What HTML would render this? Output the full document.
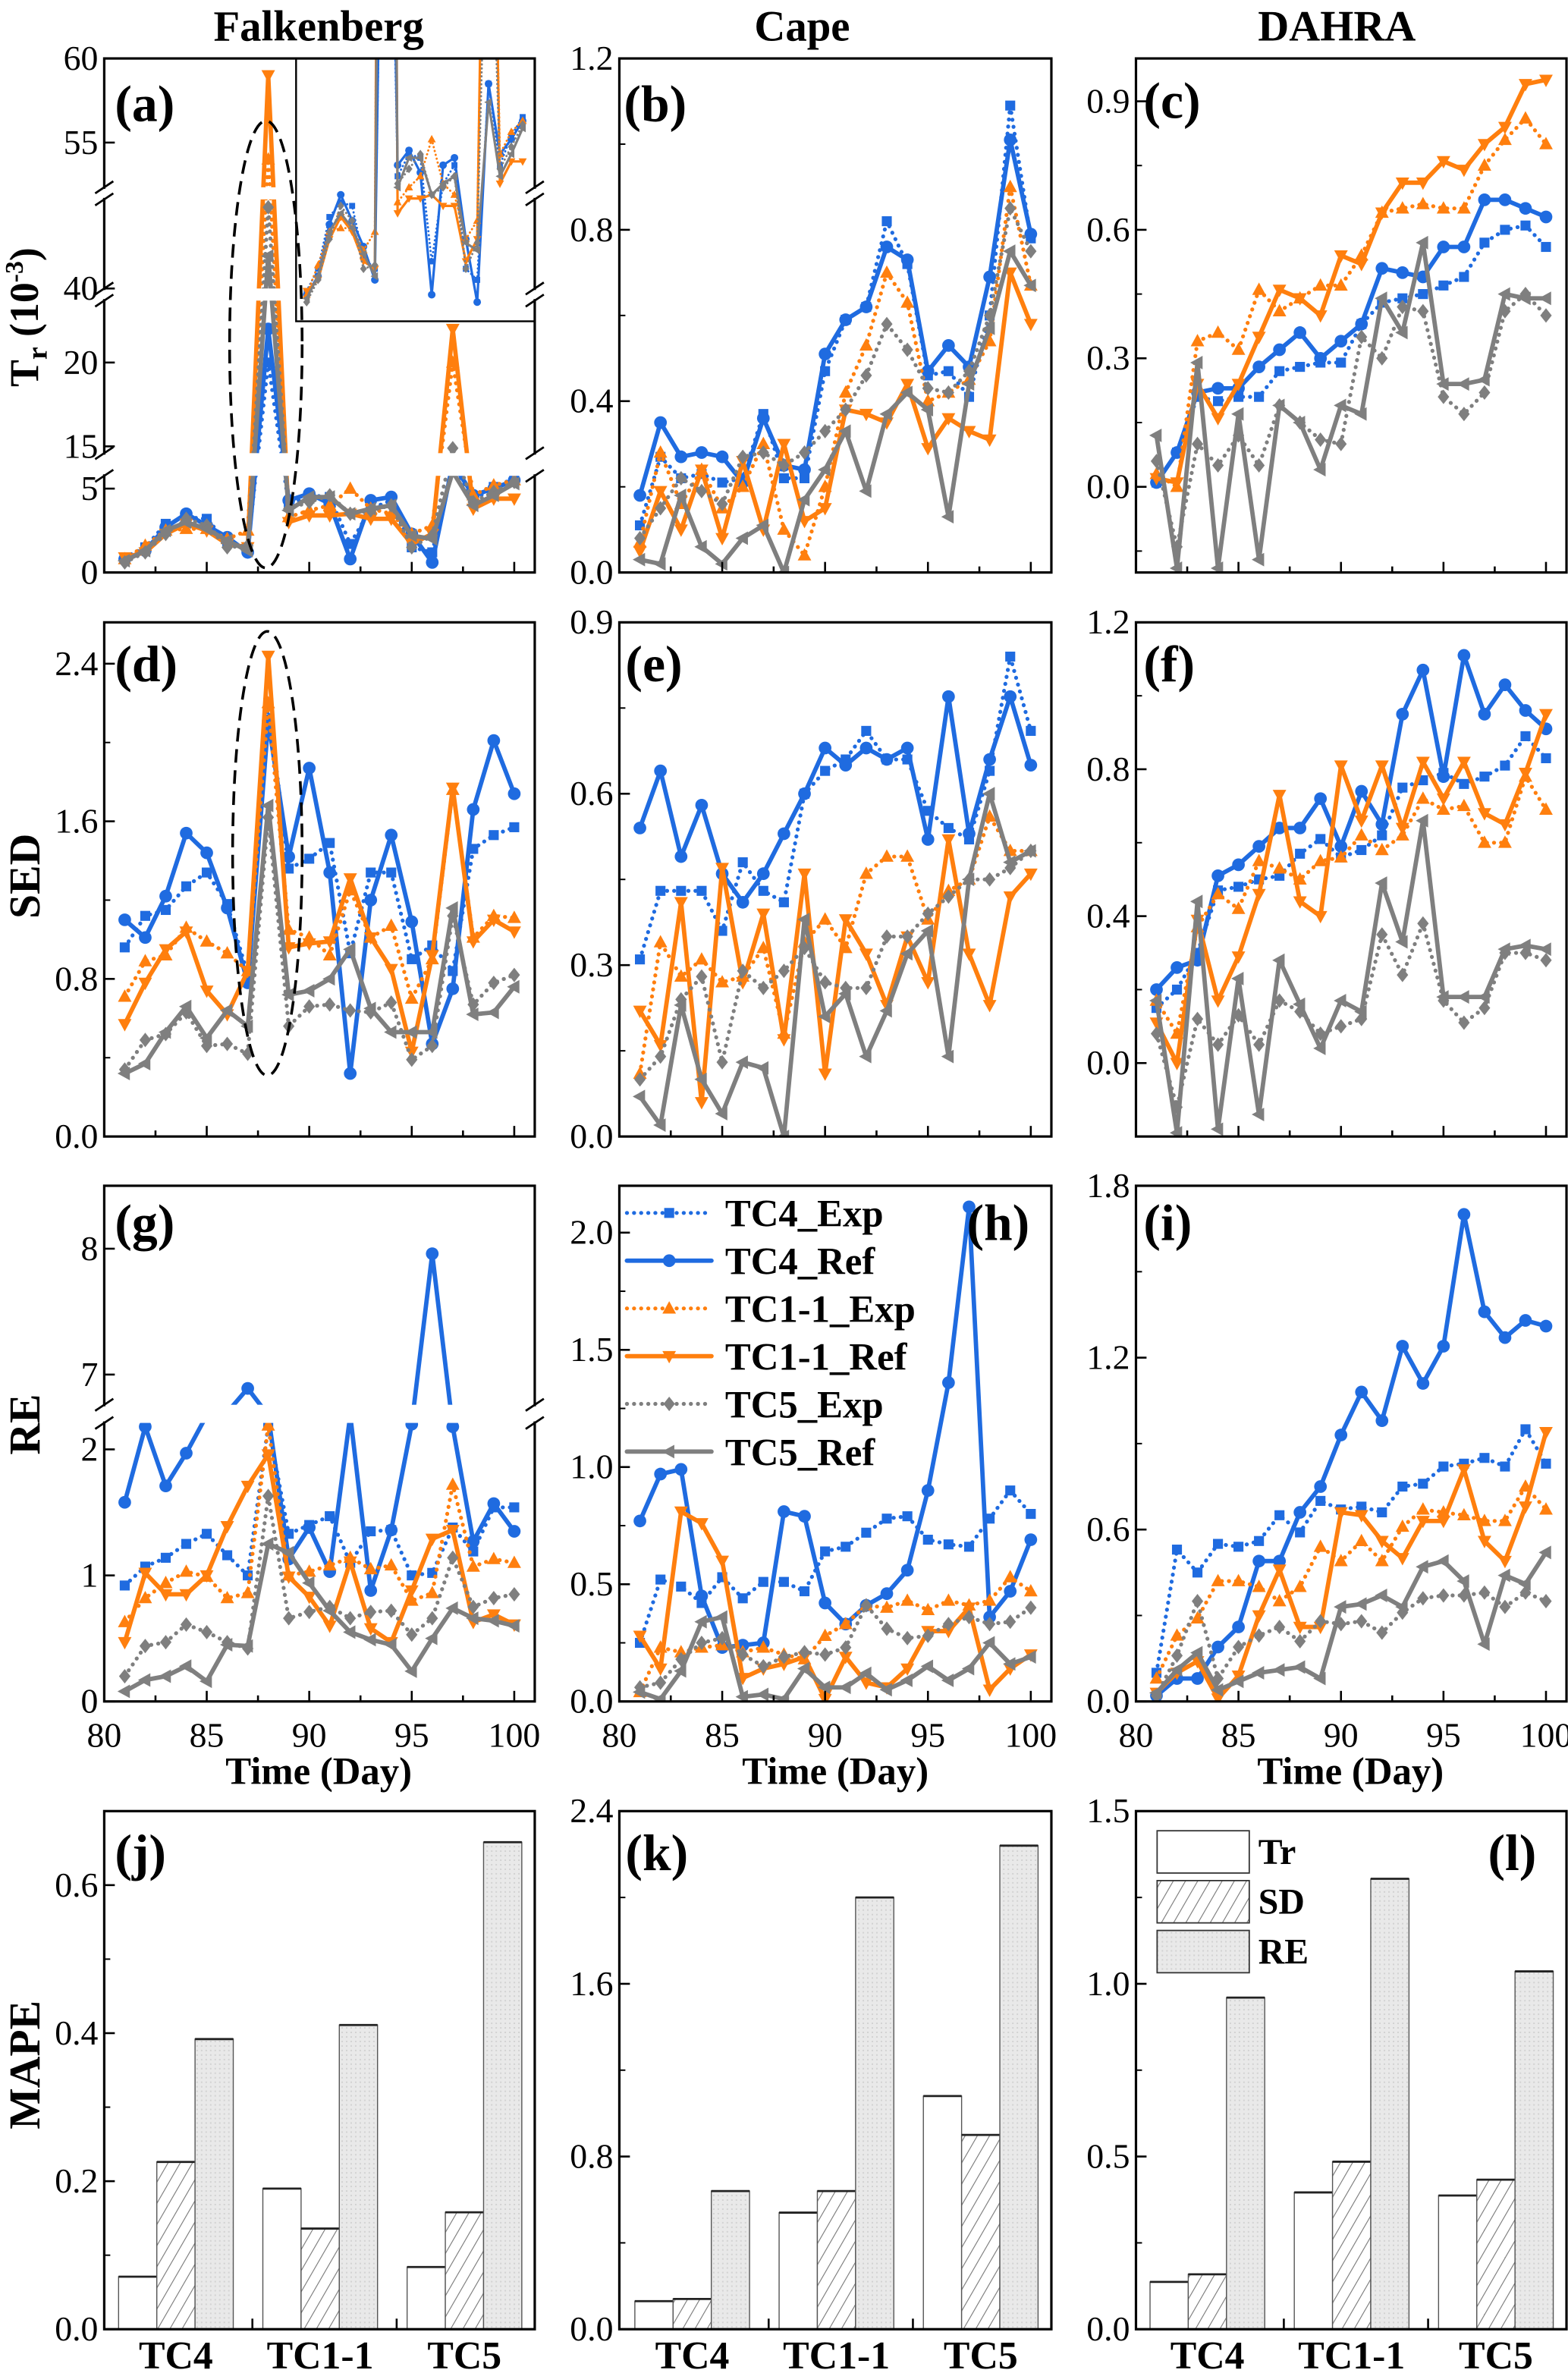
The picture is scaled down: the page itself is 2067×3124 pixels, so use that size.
<!DOCTYPE html>
<html><head><meta charset="utf-8"><title>Tr SED RE MAPE chart</title>
<style>
html,body{margin:0;padding:0;background:#fff;}
svg{display:block;}
text{font-family:"Liberation Serif","DejaVu Serif",serif;fill:#000;}
</style></head>
<body>
<svg id="fig" xmlns="http://www.w3.org/2000/svg" width="2067" height="3124" viewBox="0 0 1038 1569" preserveAspectRatio="none">
<defs>
<pattern id="hatch" width="7" height="7" patternUnits="userSpaceOnUse" patternTransform="rotate(30)">
<rect width="7" height="7" fill="#fff"/><line x1="0" y1="0" x2="0" y2="7" stroke="#777" stroke-width="1.1"/>
</pattern>
<pattern id="stipple" width="3" height="3" patternUnits="userSpaceOnUse">
<rect width="3" height="3" fill="#e9e9e9"/><rect x="1" y="1" width="1" height="1" fill="#d2d2d2"/>
</pattern>
<clipPath id="insetClip"><rect x="196" y="38.7" width="158" height="174"/></clipPath>
</defs>
</svg>
<script>
// ---------- data (days 81..100) ----------
const days=[81,82,83,84,85,86,87,88,89,90,91,92,93,94,95,96,97,98,99,100];
const xTickLabels=[80,85,90,95,100];
const seriesNames=["TC4_Exp","TC4_Ref","TC1-1_Exp","TC1-1_Ref","TC5_Exp","TC5_Ref"];
// (a) Falkenberg Tr
const a_tc4e=[0.9,1.5,2.9,3.3,3.2,1.8,1.5,20,4.0,4.6,4.5,1.7,3.8,4.3,1.5,1.2,6.5,4.3,5.1,5.6];
const a_tc4r=[0.8,1.3,2.7,3.5,2.8,2.1,1.2,22,4.3,4.7,4.1,0.8,4.3,4.5,2.3,0.6,6.5,4.6,5.0,5.5];
const a_tc11e=[0.8,1.6,2.5,2.6,2.6,2.0,2.5,54,3.3,3.7,4.0,5.0,3.8,3.5,2.3,2.8,20,4.6,5.2,5.5];
const a_tc11r=[0.9,1.2,2.3,2.9,2.5,1.7,1.5,59,3.0,3.4,3.4,3.5,3.2,3.2,1.7,2.3,22,3.8,4.4,4.4];
const a_tc5e=[0.6,1.2,2.3,3.2,2.8,1.5,1.6,45,3.8,4.2,4.6,3.5,3.7,4.0,1.5,2.2,14,4.2,4.8,5.4];
const a_tc5r=[0.7,1.3,2.5,3.0,2.6,1.9,1.3,42,3.7,4.5,4.5,3.5,3.8,4.0,2.2,2.0,6.0,4.0,4.6,5.3];
// (b) Cape Tr
const b_tc4e=[0.11,0.27,0.22,0.23,0.21,0.22,0.37,0.22,0.22,0.47,0.59,0.62,0.82,0.72,0.46,0.47,0.41,0.60,1.09,0.78];
const b_tc4r=[0.18,0.35,0.27,0.28,0.27,0.21,0.36,0.25,0.24,0.51,0.59,0.62,0.76,0.73,0.47,0.53,0.48,0.69,1.01,0.79];
const b_tc11e=[0.07,0.28,0.16,0.24,0.15,0.20,0.30,0.10,0.04,0.20,0.42,0.53,0.70,0.63,0.40,0.42,0.45,0.54,0.90,0.67];
const b_tc11r=[0.05,0.19,0.10,0.24,0.08,0.26,0.10,0.30,0.12,0.15,0.38,0.37,0.35,0.44,0.29,0.36,0.33,0.31,0.70,0.58];
const b_tc5e=[0.08,0.15,0.22,0.19,0.16,0.27,0.28,0.25,0.28,0.33,0.38,0.46,0.58,0.52,0.43,0.42,0.47,0.60,0.85,0.75];
const b_tc5r=[0.03,0.02,0.18,0.06,0.02,0.08,0.11,0.00,0.17,0.24,0.33,0.19,0.37,0.42,0.38,0.13,0.44,0.57,0.75,0.67];
// (c) DAHRA Tr
const c_tc4e=[0.01,0.08,0.21,0.20,0.21,0.21,0.27,0.28,0.29,0.29,0.38,0.43,0.44,0.45,0.47,0.49,0.57,0.60,0.61,0.56];
const c_tc4r=[0.01,0.08,0.22,0.23,0.23,0.28,0.32,0.36,0.30,0.34,0.38,0.51,0.50,0.49,0.56,0.56,0.67,0.67,0.65,0.63];
const c_tc11e=[0.03,0.0,0.34,0.36,0.32,0.46,0.41,0.44,0.47,0.47,0.54,0.64,0.65,0.66,0.65,0.65,0.75,0.81,0.86,0.80];
const c_tc11r=[0.02,0.01,0.24,0.16,0.24,0.35,0.46,0.44,0.40,0.54,0.52,0.64,0.71,0.71,0.76,0.74,0.80,0.84,0.94,0.95];
const c_tc5e=[0.06,-0.14,0.10,0.05,0.12,0.05,0.19,0.15,0.11,0.10,0.35,0.30,0.42,0.41,0.21,0.17,0.22,0.41,0.45,0.40];
const c_tc5r=[0.12,-0.19,0.29,-0.19,0.17,-0.17,0.19,0.15,0.04,0.19,0.17,0.44,0.36,0.57,0.24,0.24,0.25,0.45,0.44,0.44];
// (d) Falkenberg SED
const d_tc4e=[0.96,1.12,1.15,1.27,1.34,1.18,0.82,2.20,1.36,1.41,1.49,0.93,1.34,1.34,0.90,0.97,0.84,1.46,1.53,1.57];
const d_tc4r=[1.10,1.01,1.22,1.54,1.44,1.16,0.78,2.11,1.42,1.87,1.34,0.32,1.20,1.53,1.09,0.47,0.75,1.66,2.01,1.74];
const d_tc11e=[0.71,0.89,0.92,1.06,0.99,0.93,0.84,2.20,1.05,1.01,0.92,1.25,1.01,1.07,0.70,0.90,1.76,1.01,1.12,1.11];
const d_tc11r=[0.57,0.78,0.95,1.04,0.74,0.62,0.84,2.44,0.96,0.98,0.99,1.31,1.01,0.85,0.43,0.92,1.77,0.99,1.10,1.04];
const d_tc5e=[0.34,0.49,0.52,0.63,0.46,0.47,0.42,1.62,0.56,0.66,0.67,0.64,0.63,0.68,0.39,0.46,1.12,0.67,0.78,0.82];
const d_tc5r=[0.32,0.37,0.53,0.66,0.50,0.64,0.56,1.68,0.72,0.74,0.80,0.95,0.65,0.53,0.53,0.53,1.16,0.62,0.63,0.76];
// (e) Cape SED
const e_tc4e=[0.31,0.43,0.43,0.43,0.36,0.48,0.43,0.41,0.60,0.64,0.66,0.71,0.66,0.66,0.57,0.54,0.52,0.64,0.84,0.71];
const e_tc4r=[0.54,0.64,0.49,0.58,0.46,0.41,0.46,0.53,0.60,0.68,0.65,0.68,0.66,0.68,0.52,0.77,0.53,0.66,0.77,0.65];
const e_tc11e=[0.11,0.34,0.28,0.31,0.27,0.28,0.33,0.18,0.34,0.38,0.33,0.46,0.49,0.49,0.38,0.43,0.45,0.56,0.50,0.50];
const e_tc11r=[0.22,0.16,0.41,0.06,0.47,0.27,0.39,0.17,0.46,0.11,0.38,0.32,0.23,0.35,0.27,0.52,0.32,0.23,0.42,0.46];
const e_tc5e=[0.10,0.14,0.24,0.28,0.13,0.29,0.26,0.29,0.33,0.27,0.26,0.26,0.35,0.35,0.39,0.42,0.45,0.45,0.47,0.50];
const e_tc5r=[0.07,0.02,0.23,0.10,0.04,0.13,0.12,0.00,0.38,0.21,0.25,0.14,0.22,0.32,0.36,0.14,0.45,0.60,0.48,0.50];
// (f) DAHRA SED
const f_tc4e=[0.15,0.20,0.30,0.47,0.48,0.50,0.51,0.57,0.61,0.56,0.58,0.62,0.75,0.77,0.79,0.76,0.78,0.81,0.89,0.83];
const f_tc4r=[0.20,0.26,0.28,0.51,0.54,0.59,0.64,0.64,0.72,0.59,0.74,0.65,0.95,1.07,0.78,1.11,0.95,1.03,0.96,0.91];
const f_tc11e=[0.17,0.08,0.37,0.46,0.42,0.55,0.53,0.50,0.55,0.56,0.62,0.58,0.62,0.72,0.69,0.70,0.60,0.60,0.78,0.69];
const f_tc11r=[0.11,0.00,0.39,0.17,0.29,0.46,0.73,0.44,0.40,0.81,0.66,0.81,0.64,0.82,0.72,0.82,0.68,0.65,0.79,0.95];
const f_tc5e=[0.08,-0.12,0.12,0.05,0.13,0.05,0.17,0.14,0.08,0.10,0.12,0.35,0.24,0.38,0.17,0.11,0.15,0.30,0.30,0.28];
const f_tc5r=[0.17,-0.19,0.44,-0.18,0.23,-0.14,0.28,0.16,0.04,0.17,0.14,0.49,0.33,0.66,0.18,0.18,0.18,0.31,0.32,0.31];
// (g) Falkenberg RE
const g_tc4e=[0.92,1.07,1.14,1.25,1.33,1.16,1.00,2.19,1.33,1.40,1.47,1.10,1.35,1.36,1.00,1.02,1.38,1.19,1.54,1.54];
const g_tc4r=[1.58,2.18,1.71,1.97,2.35,6.70,6.89,2.40,1.13,1.38,1.03,2.50,0.88,1.36,2.20,7.96,2.18,1.27,1.57,1.35];
const g_tc11e=[0.63,0.82,0.94,1.03,0.99,0.82,0.86,2.19,1.00,1.03,1.08,1.14,1.05,1.08,0.80,0.86,1.72,1.07,1.13,1.10];
const g_tc11r=[0.47,1.02,0.85,0.85,1.00,1.39,1.71,1.96,0.99,0.83,0.60,1.11,0.58,0.47,0.88,1.29,1.36,0.63,0.69,0.61];
const g_tc5e=[0.20,0.44,0.47,0.61,0.55,0.47,0.42,1.63,0.66,0.71,0.75,0.66,0.71,0.72,0.53,0.66,1.14,0.75,0.82,0.85];
const g_tc5r=[0.08,0.17,0.20,0.28,0.16,0.45,0.44,1.25,1.18,0.94,0.72,0.55,0.49,0.45,0.24,0.50,0.74,0.66,0.64,0.60];
// (h) Cape RE
const h_tc4e=[0.25,0.52,0.49,0.42,0.53,0.44,0.51,0.51,0.47,0.64,0.66,0.72,0.78,0.79,0.69,0.67,0.66,0.78,0.90,0.80];
const h_tc4r=[0.77,0.97,0.99,0.45,0.23,0.24,0.25,0.81,0.79,0.42,0.33,0.41,0.46,0.56,0.90,1.36,2.11,0.36,0.47,0.69];
const h_tc11e=[0.04,0.23,0.21,0.23,0.24,0.21,0.23,0.20,0.18,0.28,0.33,0.41,0.40,0.43,0.39,0.43,0.41,0.43,0.53,0.47];
const h_tc11r=[0.28,0.14,0.81,0.76,0.60,0.10,0.14,0.16,0.19,0.01,0.19,0.08,0.06,0.14,0.30,0.30,0.40,0.05,0.14,0.20];
const h_tc5e=[0.06,0.08,0.18,0.25,0.27,0.20,0.15,0.19,0.21,0.20,0.23,0.41,0.31,0.27,0.28,0.33,0.36,0.33,0.34,0.40];
const h_tc5r=[0.04,0.01,0.13,0.34,0.36,0.02,0.03,0.01,0.14,0.06,0.06,0.12,0.05,0.09,0.15,0.09,0.14,0.25,0.16,0.19];
// (i) DAHRA RE
const i_tc4e=[0.10,0.53,0.45,0.55,0.54,0.56,0.65,0.59,0.70,0.67,0.68,0.66,0.75,0.76,0.82,0.83,0.85,0.82,0.95,0.83];
const i_tc4r=[0.02,0.08,0.08,0.19,0.26,0.49,0.49,0.66,0.75,0.93,1.08,0.98,1.24,1.11,1.24,1.70,1.36,1.27,1.33,1.31];
const i_tc11e=[0.08,0.23,0.29,0.42,0.42,0.40,0.35,0.40,0.54,0.49,0.56,0.49,0.61,0.67,0.66,0.65,0.63,0.63,0.75,0.67];
const i_tc11r=[0.03,0.10,0.14,0.01,0.09,0.30,0.46,0.26,0.26,0.66,0.65,0.56,0.50,0.63,0.63,0.81,0.56,0.49,0.68,0.94];
const i_tc5e=[0.02,0.16,0.35,0.08,0.19,0.23,0.26,0.21,0.28,0.27,0.28,0.24,0.31,0.36,0.37,0.37,0.38,0.33,0.38,0.35];
const i_tc5r=[0.03,0.11,0.17,0.04,0.07,0.10,0.11,0.12,0.08,0.33,0.34,0.37,0.33,0.47,0.49,0.42,0.20,0.44,0.41,0.52];
// bar charts (MAPE)
const barCategories=["TC4","TC1-1","TC5"];
const barSeriesNames=["Tr","SD","RE"];
const j_tr=[0.071,0.19,0.084];
const j_sd=[0.226,0.136,0.158];
const j_re=[0.392,0.411,0.658];
const k_tr=[0.13,0.54,1.08];
const k_sd=[0.14,0.64,0.90];
const k_re=[0.64,2.00,2.24];
const l_tr=[0.137,0.396,0.387];
const l_sd=[0.159,0.485,0.433];
const l_re=[0.96,1.304,1.036];
// tick labels
const aTicks=[0,5,15,20,40,55,60];
const bTicks=["0.0","0.4","0.8","1.2"];
const cTicks=["0.0","0.3","0.6","0.9"];
const dTicks=["0.0","0.8","1.6","2.4"];
const eTicks=["0.0","0.3","0.6","0.9"];
const fTicks=["0.0","0.4","0.8","1.2"];
const gTicks=[0,1,2,7,8];
const hTicks=["0.0","0.5","1.0","1.5","2.0"];
const iTicks=["0.0","0.6","1.2","1.8"];
const jTicks=["0.0","0.2","0.4","0.6"];
const kTicks=["0.0","0.8","1.6","2.4"];
const lTicks=["0.0","0.5","1.0","1.5"];

// ---------- layout ----------
const NS='http://www.w3.org/2000/svg';
const svg=document.getElementById('fig');
const COLS=[[69,354],[410,696],[752,1037]];
const ROWS=[[38.7,379],[412,752.4],[785,1126.4],[1199,1542]];
const COLORS={blue:'#1f6be0',orange:'#ff7f0e',gray:'#7f7f7f'};
const TICK_FS=23;

function mk(tag,attrs,name,parent){
  const el=document.createElementNS(NS,tag);
  for(const k in attrs) el.setAttribute(k,attrs[k]);
  
  
  (parent||svg).appendChild(el);
  return el;
}
function txt(x,y,s,size,opts,name,parent){
  const o=Object.assign({x:x,y:y,'font-size':size},opts||{});
  const t=mk('text',o,name,parent);
  t.textContent=s;
  return t;
}
function makeY(cfg){
  if(cfg.pw){
    const pw=cfg.pw;
    return v=>{
      if(v<=pw[0][0]) return pw[0][1];
      for(let i=1;i<pw.length;i++){
        if(v<=pw[i][0]){const a=pw[i-1],b=pw[i];return a[1]+(v-a[0])/(b[0]-a[0])*(b[1]-a[1]);}
      }
      return pw[pw.length-1][1]-(v-pw[pw.length-1][0])*11.1;
    };
  }
  return v=>cfg.yb-(v-cfg.vmin)/(cfg.vmax-cfg.vmin)*(cfg.yb-cfg.yt);
}
function makeX(x0,x1){return d=>x0+(d-80)/21*(x1-x0);}

function marker(g,type,x,y,color,s,name){
  s=s||1;
  let el;
  if(type==='circle') el=mk('circle',{cx:x,cy:y,r:4.2*s,fill:color},name,g);
  else if(type==='square') el=mk('rect',{x:x-3.3*s,y:y-3.3*s,width:6.6*s,height:6.6*s,fill:color},name,g);
  else if(type==='up') el=mk('polygon',{points:`${x},${y-4.8*s} ${x-4.5*s},${y+3.4*s} ${x+4.5*s},${y+3.4*s}`,fill:color},name,g);
  else if(type==='down') el=mk('polygon',{points:`${x},${y+4.8*s} ${x-4.5*s},${y-3.4*s} ${x+4.5*s},${y-3.4*s}`,fill:color},name,g);
  else if(type==='left') el=mk('polygon',{points:`${x-4.8*s},${y} ${x+3.4*s},${y-4.5*s} ${x+3.4*s},${y+4.5*s}`,fill:color},name,g);
  else if(type==='diamond') el=mk('polygon',{points:`${x},${y-4.8*s} ${x+3.8*s},${y} ${x},${y+4.8*s} ${x-3.8*s},${y}`,fill:color},name,g);
  return el;
}
const STYLES=[
 {color:COLORS.blue,dash:true,m:'square'},
 {color:COLORS.blue,dash:false,m:'circle'},
 {color:COLORS.orange,dash:true,m:'up'},
 {color:COLORS.orange,dash:false,m:'down'},
 {color:COLORS.gray,dash:true,m:'diamond'},
 {color:COLORS.gray,dash:false,m:'left'}
];
function drawSeries(g,xs,ys,vals,st,slug,scale,lw){
  scale=scale||1;lw=lw||1;
  const pts=days.map((d,i)=>xs(d).toFixed(2)+','+ys(vals[i]).toFixed(2)).join(' ');
  const attrs={points:pts,fill:'none',stroke:st.color,'stroke-width':(st.dash?2.6:2.9)*lw,'stroke-linejoin':'round','stroke-linecap':'round'};
  if(st.dash) attrs['stroke-dasharray']=`0.1 ${4.6*lw}`;
  mk('polyline',attrs,slug+'-line',g);
  days.forEach((d,i)=>{marker(g,st.m,xs(d),ys(vals[i]),st.color,scale,slug+'-point');});
}
function frame(x0,x1,yt,yb,name){
  mk('rect',{x:x0,y:yt,width:x1-x0,height:yb-yt,fill:'none',stroke:'#000','stroke-width':1.6},name,svg);
}
function yTicksLinear(col,row,cfg,labels,minorStep,name){
  const [x0,x1]=COLS[col];const ys=makeY(cfg);
  labels.forEach(l=>{
    const v=parseFloat(l),y=ys(v);
    mk('line',{x1:x0,y1:y,x2:x0+7,y2:y,stroke:'#000','stroke-width':1.3},name+'-tick',svg);
    txt(x0-4,y+7.5,String(l),TICK_FS,{'text-anchor':'end'},name+'-label',svg);
  });
  if(minorStep){
    for(let v=cfg.vmin;v<=cfg.vmax+1e-9;v+=minorStep){
      const y=ys(v);
      mk('line',{x1:x0,y1:y,x2:x0+4,y2:y,stroke:'#000','stroke-width':1},name+'-minor-tick',svg);
    }
  }
}
function xTicks(col,row,showLabels,name){
  const [x0,x1]=COLS[col];const yb=ROWS[row][1];const xs=makeX(x0,x1);
  for(let d=80;d<=100;d+=2.5){
    const major=(d%5===0);
    mk('line',{x1:xs(d),y1:yb,x2:xs(d),y2:yb-(major?7:4),stroke:'#000','stroke-width':1.3},name+'-tick',svg);
  }
  if(showLabels){
    xTickLabels.forEach(d=>{txt(xs(d),yb+30,String(d),TICK_FS,{'text-anchor':'middle'},name+'-label',svg);});
  }
}
const SERIES_SLUGS=['tc4-exp','tc4-ref','tc1-1-exp','tc1-1-ref','tc5-exp','tc5-ref'];

function linePanel(id,col,row,cfg,data){
  const [x0,x1]=COLS[col];const [yt,yb]=ROWS[row];
  cfg.yt=yt;cfg.yb=yb;
  const xs=makeX(x0,x1),ys=makeY(cfg);
  const g=mk('g',{},'panel-'+id,svg);
  const clipId='clip-'+id;
  const cp=mk('clipPath',{id:clipId},'clip-'+id,svg);
  mk('rect',{x:x0,y:yt,width:x1-x0,height:yb-yt},'clip-rect',cp);
  const inner=mk('g',{'clip-path':`url(#${clipId})`},'plot-area-'+id,g);
  data.forEach((vals,k)=>drawSeries(inner,xs,ys,vals,STYLES[k],id+'-'+SERIES_SLUGS[k]));
  return {g,xs,ys,x0,x1,yt,yb};
}

// ---------- titles ----------
txt(211,27,'Falkenberg',28.5,{'font-weight':'bold','text-anchor':'middle'},'column-title-falkenberg');
txt(531,27,'Cape',28.5,{'font-weight':'bold','text-anchor':'middle'},'column-title-cape');
txt(885,27,'DAHRA',28.5,{'font-weight':'bold','text-anchor':'middle'},'column-title-dahra');

// ---------- Row 1 ----------
const aCfg={pw:[[0,379],[6.6,305.7],[15,295.5],[24,195.6],[40,191],[45.8,128.6],[52,127.8],[60,38.7]]};
const pa=linePanel('a',0,0,aCfg,[a_tc4e,a_tc4r,a_tc11e,a_tc11r,a_tc5e,a_tc5r]);
mk('rect',{x:66,y:300,width:292,height:15,fill:'#fff'},'axis-break-gap',svg);
mk('rect',{x:66,y:124,width:130,height:8,fill:'#fff'},'axis-break-gap',svg);
mk('rect',{x:66,y:191,width:130,height:8,fill:'#fff'},'axis-break-gap',svg);
const insetG=mk('g',{'clip-path':'url(#insetClip)'},'inset-plot',svg);
mk('rect',{x:196,y:38.7,width:158,height:174,fill:'#fff'},'inset-background',insetG);
const ixs=d=>203+(d-81)/19*143;
const iys=v=>214.7-24.5*v;
[a_tc4e,a_tc4r,a_tc11e,a_tc11r,a_tc5e,a_tc5r].forEach((vals,k)=>drawSeries(insetG,ixs,iys,vals,STYLES[k],'inset-'+SERIES_SLUGS[k],0.6,0.55));
mk('rect',{x:196,y:38.7,width:158,height:174,fill:'none',stroke:'#000','stroke-width':1.2},'inset-frame',svg);
frame(69,354,38.7,379,'panel-a-frame');
[[124,132],[191,199],[300,315]].forEach(b=>{
  mk('rect',{x:66,y:b[0]+1,width:6,height:b[1]-b[0]-2,fill:'#fff'},'axis-break-gap',svg);
  mk('rect',{x:351,y:b[0]+1,width:6,height:b[1]-b[0]-2,fill:'#fff'},'axis-break-gap',svg);
  [69,354].forEach(x=>{
    mk('line',{x1:x-6,y1:b[0]+4,x2:x+6,y2:b[0]-4,stroke:'#000','stroke-width':1.4},'axis-break-mark',svg);
    mk('line',{x1:x-6,y1:b[1]+4,x2:x+6,y2:b[1]-4,stroke:'#000','stroke-width':1.4},'axis-break-mark',svg);
  });
});
aTicks.forEach(v=>{
  const y=pa.ys(v);
  mk('line',{x1:69,y1:y,x2:76,y2:y,stroke:'#000','stroke-width':1.3},'a-y-tick',svg);
  txt(65,y+7.5,String(v),TICK_FS,{'text-anchor':'end'},'a-y-tick-label',svg);
});
xTicks(0,0,false,'a-x');
mk('ellipse',{cx:176,cy:228,rx:24,ry:148,fill:'none',stroke:'#000','stroke-width':1.8,'stroke-dasharray':'9 5'},'highlight-ellipse-a',svg);

const bCfg={vmin:0,vmax:1.2};
linePanel('b',1,0,bCfg,[b_tc4e,b_tc4r,b_tc11e,b_tc11r,b_tc5e,b_tc5r]);
frame(410,696,38.7,379,'panel-b-frame');yTicksLinear(1,0,bCfg,bTicks,0.2,'b-y');xTicks(1,0,false,'b-x');

const cCfg={vmin:-0.2,vmax:1.0};
linePanel('c',2,0,cCfg,[c_tc4e,c_tc4r,c_tc11e,c_tc11r,c_tc5e,c_tc5r]);
frame(752,1037,38.7,379,'panel-c-frame');yTicksLinear(2,0,cCfg,cTicks,null,'c-y');
[-0.15,0.15,0.45,0.75].forEach(v=>{const y=makeY(cCfg)(v);mk('line',{x1:752,y1:y,x2:756,y2:y,stroke:'#000','stroke-width':1},'c-y-minor-tick',svg);});
xTicks(2,0,false,'c-x');

// ---------- Row 2 ----------
const dCfg={vmin:0,vmax:2.61};
linePanel('d',0,1,dCfg,[d_tc4e,d_tc4r,d_tc11e,d_tc11r,d_tc5e,d_tc5r]);
frame(69,354,412,752.4,'panel-d-frame');yTicksLinear(0,1,dCfg,dTicks,0.4,'d-y');xTicks(0,1,false,'d-x');
mk('ellipse',{cx:177,cy:565,rx:23,ry:147,fill:'none',stroke:'#000','stroke-width':1.8,'stroke-dasharray':'9 5'},'highlight-ellipse-d',svg);

const eCfg={vmin:0,vmax:0.9};
linePanel('e',1,1,eCfg,[e_tc4e,e_tc4r,e_tc11e,e_tc11r,e_tc5e,e_tc5r]);
frame(410,696,412,752.4,'panel-e-frame');yTicksLinear(1,1,eCfg,eTicks,0.15,'e-y');xTicks(1,1,false,'e-x');

const fCfg={vmin:-0.2,vmax:1.2};
linePanel('f',2,1,fCfg,[f_tc4e,f_tc4r,f_tc11e,f_tc11r,f_tc5e,f_tc5r]);
frame(752,1037,412,752.4,'panel-f-frame');yTicksLinear(2,1,fCfg,fTicks,null,'f-y');
[-0.2,0.2,0.6,1.0].forEach(v=>{const y=makeY(fCfg)(v);mk('line',{x1:752,y1:y,x2:756,y2:y,stroke:'#000','stroke-width':1},'f-y-minor-tick',svg);});
xTicks(2,1,false,'f-x');

// ---------- Row 3 ----------
const gCfg={pw:[[0,1126.4],[2.27,937],[6.7,935],[8.5,785]]};
const pg=linePanel('g',0,2,gCfg,[g_tc4e,g_tc4r,g_tc11e,g_tc11r,g_tc5e,g_tc5r]);
mk('rect',{x:66,y:930,width:292,height:12,fill:'#fff'},'axis-break-gap',svg);
frame(69,354,785,1126.4,'panel-g-frame');
mk('rect',{x:66,y:931,width:6,height:10,fill:'#fff'},'axis-break-gap',svg);
mk('rect',{x:351,y:931,width:6,height:10,fill:'#fff'},'axis-break-gap',svg);
[69,354].forEach(x=>{
  mk('line',{x1:x-6,y1:934,x2:x+6,y2:926,stroke:'#000','stroke-width':1.4},'axis-break-mark',svg);
  mk('line',{x1:x-6,y1:946,x2:x+6,y2:938,stroke:'#000','stroke-width':1.4},'axis-break-mark',svg);
});
gTicks.forEach(v=>{
  const y=pg.ys(v);
  mk('line',{x1:69,y1:y,x2:76,y2:y,stroke:'#000','stroke-width':1.3},'g-y-tick',svg);
  txt(65,y+7.5,String(v),TICK_FS,{'text-anchor':'end'},'g-y-tick-label',svg);
});
xTicks(0,2,true,'g-x');

const hCfg={vmin:0,vmax:2.2};
linePanel('h',1,2,hCfg,[h_tc4e,h_tc4r,h_tc11e,h_tc11r,h_tc5e,h_tc5r]);
frame(410,696,785,1126.4,'panel-h-frame');yTicksLinear(1,2,hCfg,hTicks,0.25,'h-y');xTicks(1,2,true,'h-x');

const iCfg={vmin:0,vmax:1.8};
linePanel('i',2,2,iCfg,[i_tc4e,i_tc4r,i_tc11e,i_tc11r,i_tc5e,i_tc5r]);
frame(752,1037,785,1126.4,'panel-i-frame');yTicksLinear(2,2,iCfg,iTicks,0.3,'i-y');xTicks(2,2,true,'i-x');

// legend in h
const legend=mk('g',{},'legend',svg);
seriesNames.forEach((n,k)=>{
  const y=803+k*31.6;const st=STYLES[k];
  const ent=mk('g',{},'legend-entry',legend);
  const la={x1:415,y1:y,x2:471,y2:y,stroke:st.color,'stroke-width':st.dash?2.6:2.9,'stroke-linecap':'round'};
  if(st.dash) la['stroke-dasharray']='0.1 4.6';
  mk('line',la,'legend-swatch-line',ent);
  marker(ent,st.m,443,y,st.color,1,'legend-swatch-marker');
  txt(480,y+9,n,25.5,{'font-weight':'bold'},'legend-label',ent);
});

// ---------- Row 4: bars ----------
function barPanel(id,col,vmax,xmin,tr,sd,re,labels,minor){
  const [x0,x1]=COLS[col];const [yt,yb]=ROWS[3];
  const unit=95.5;
  const xs=u=>x0+(u-xmin)*unit;
  const ys=v=>yb-v/vmax*(yb-yt);
  const g=mk('g',{},'panel-'+id,svg);
  const bw=0.265;
  const fills=['#fff','url(#hatch)','url(#stipple)'];
  [tr,sd,re].forEach((vals,s)=>{
    vals.forEach((v,c)=>{
      const cx=c+1+(s-1)*bw;
      const bx=xs(cx-bw/2),by=ys(v);
      mk('rect',{x:bx,y:by,width:bw*unit,height:yb-by,fill:fills[s],stroke:'#555','stroke-width':0.7},'bar-'+barSeriesNames[s].toLowerCase()+'-'+barCategories[c].toLowerCase(),g);
      mk('line',{x1:bx,y1:by,x2:bx+bw*unit,y2:by,stroke:'#222','stroke-width':1.4},'bar-top-edge',g);
    });
  });
  frame(x0,x1,yt,yb,'panel-'+id+'-frame');
  labels.forEach(l=>{
    const v=parseFloat(l),y=ys(v);
    mk('line',{x1:x0,y1:y,x2:x0+7,y2:y,stroke:'#000','stroke-width':1.3},id+'-y-tick',svg);
    txt(x0-4,y+7.5,l,TICK_FS,{'text-anchor':'end'},id+'-y-tick-label',svg);
  });
  if(minor){for(let v=0;v<=vmax+1e-9;v+=minor){const y=ys(v);mk('line',{x1:x0,y1:y,x2:x0+4,y2:y,stroke:'#000','stroke-width':1},id+'-y-minor-tick',svg);}}
  [1.53,2.53].forEach(u=>mk('line',{x1:xs(u),y1:yb,x2:xs(u),y2:yb-7,stroke:'#000','stroke-width':1.3},id+'-x-tick',svg));
  barCategories.forEach((c,i)=>txt(xs(i+1),yb+26,c,26,{'font-weight':'bold','text-anchor':'middle'},id+'-category-label',svg));
}
barPanel('j',0,0.7,0.503,j_tr,j_sd,j_re,jTicks,0.1);
barPanel('k',1,2.4,0.495,k_tr,k_sd,k_re,kTicks,0.4);
barPanel('l',2,1.5,0.505,l_tr,l_sd,l_re,lTicks,0.25);
// bar legend
const bl=mk('g',{},'bar-legend',svg);
[['Tr','#fff'],['SD','url(#hatch)'],['RE','url(#stipple)']].forEach((e,k)=>{
  const y=1212+k*33;
  const ent=mk('g',{},'bar-legend-entry',bl);
  mk('rect',{x:766,y:y,width:61,height:28,fill:e[1],stroke:'#333','stroke-width':0.9},'bar-legend-swatch',ent);
  txt(833,y+22,e[0],24,{'font-weight':'bold'},'bar-legend-label',ent);
});

// ---------- panel labels ----------
[['(a)',76,80],['(b)',413,80],['(c)',757,78],['(d)',76,451],['(e)',414,451],['(f)',757,451],
 ['(g)',76,821],['(h)',640,821],['(i)',757,821],['(j)',76,1238],['(k)',414,1238],['(l)',985,1238]].forEach(p=>{
  txt(p[1],p[2],p[0],34,{'font-weight':'bold'},'panel-label',svg);
});

// ---------- axis titles ----------
const tr=txt(0,0,'',27,{'font-weight':'bold','text-anchor':'middle',transform:'translate(25,210) rotate(-90)'},'y-axis-title-tr',svg);
tr.innerHTML='T<tspan font-size="19" dy="6">r</tspan><tspan dy="-6"> (10</tspan><tspan font-size="17" dy="-10">-3</tspan><tspan dy="10">)</tspan>';
txt(0,0,'SED',29,{'font-weight':'bold','text-anchor':'middle',transform:'translate(26,580) rotate(-90)'},'y-axis-title-sed',svg);
txt(0,0,'RE',29,{'font-weight':'bold','text-anchor':'middle',transform:'translate(26,943) rotate(-90)'},'y-axis-title-re',svg);
txt(0,0,'MAPE',29,{'font-weight':'bold','text-anchor':'middle',transform:'translate(26,1367) rotate(-90)'},'y-axis-title-mape',svg);
[211,553,894].forEach(x=>txt(x,1181,'Time (Day)',25.5,{'font-weight':'bold','text-anchor':'middle'},'x-axis-title',svg));
</script>
</body></html>
